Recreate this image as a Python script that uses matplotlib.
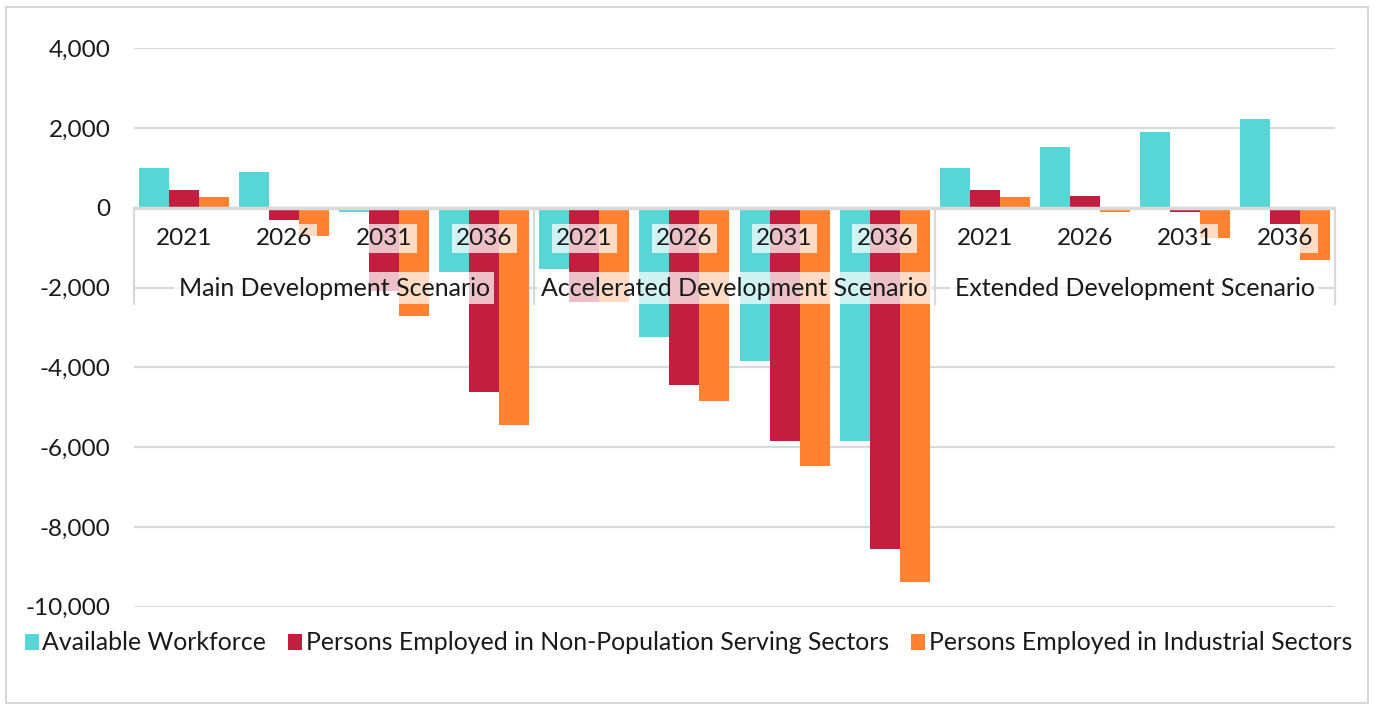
import numpy as np
import matplotlib
matplotlib.use('Agg')
from matplotlib import pyplot as plt
from matplotlib.patches import Rectangle, Patch
from matplotlib.ticker import FuncFormatter

years = ['2021', '2026', '2031', '2036'] * 3
scenarios = ['Main Development Scenario', 'Accelerated Development Scenario',
             'Extended Development Scenario']
series_names = ['Available Workforce',
                'Persons Employed in Non-Population Serving Sectors',
                'Persons Employed in Industrial Sectors']
workforce = [1005, 894, -101, -1600, -1525, -3235, -3830, -5835, 1005, 1527, 1890, 2228]
non_population = [448, -312, -2085, -4620, -2350, -4450, -5835, -8550, 448, 304, -100, -413]
industrial = [278, -709, -2700, -5440, -2350, -4855, -6465, -9390, 278, -94, -750, -1300]

colors = ['#57D6D5', '#C21F40', '#FE8230']
grid_col = '#D9D9D9'
text_col = '#1A1A1A'

plt.rcParams['font.family'] = ['Lato', 'DejaVu Sans']

fig = plt.figure(figsize=(13.77, 7.10), dpi=100)
ax = fig.add_axes([134 / 1377, 1 - 606.7 / 710, (1335 - 134) / 1377, (606.7 - 48.3) / 710])

x = np.arange(len(years))
w = 0.3
for i, vals in enumerate([workforce, non_population, industrial]):
    ax.bar(x + (i - 1) * w, vals, width=w, color=colors[i], zorder=2, label=series_names[i])

ax.set_xlim(-0.5, len(years) - 0.5)
ax.set_ylim(-10000, 4000)
ax.set_yticks(range(-10000, 4001, 2000))
ax.yaxis.set_major_formatter(FuncFormatter(lambda v, p: f'{int(v):,}'))
ax.tick_params(axis='y', length=0, pad=17, labelsize=17.5, labelcolor=text_col)
ax.set_xticks([])
ax.grid(axis='y', color=grid_col, linewidth=1.6, zorder=0)
for s in ax.spines.values():
    s.set_visible(False)

# zero axis line on top of bars
ax.axhline(0, color=grid_col, linewidth=2.5, zorder=3)

# category labels (two tiers)
box = dict(boxstyle='square,pad=0.18', facecolor='white', edgecolor='none', alpha=0.72)
for xi, yr in zip(x, years):
    ax.text(xi, -770, yr, ha='center', va='center', fontsize=17.5, color=text_col,
            bbox=box, zorder=4)
for g, name in enumerate(scenarios):
    ax.text(g * 4 + 1.5, -2010, name, ha='center', va='center', fontsize=18,
            color=text_col, bbox=box, zorder=4)
for b in [-0.5, 3.5, 7.5, 11.5]:
    ax.plot([b, b], [0, -2420], color=grid_col, linewidth=1.6, zorder=1, clip_on=False)

handles = [Patch(facecolor=c, edgecolor='none') for c in colors]
fig.legend(handles, series_names, loc='center', bbox_to_anchor=(0.5, 1 - 643 / 710),
           ncol=3, frameon=False, fontsize=17.9, handlelength=0.55, handleheight=0.6,
           handletextpad=0.15, columnspacing=0.9, labelcolor=text_col)

fig.patches.append(Rectangle((6 / 1377, 7 / 710), 1362 / 1377, 696 / 710,
                             transform=fig.transFigure, fill=False,
                             edgecolor='#D9D9D9', linewidth=1.5))

fig.savefig('out.png', dpi=100)
